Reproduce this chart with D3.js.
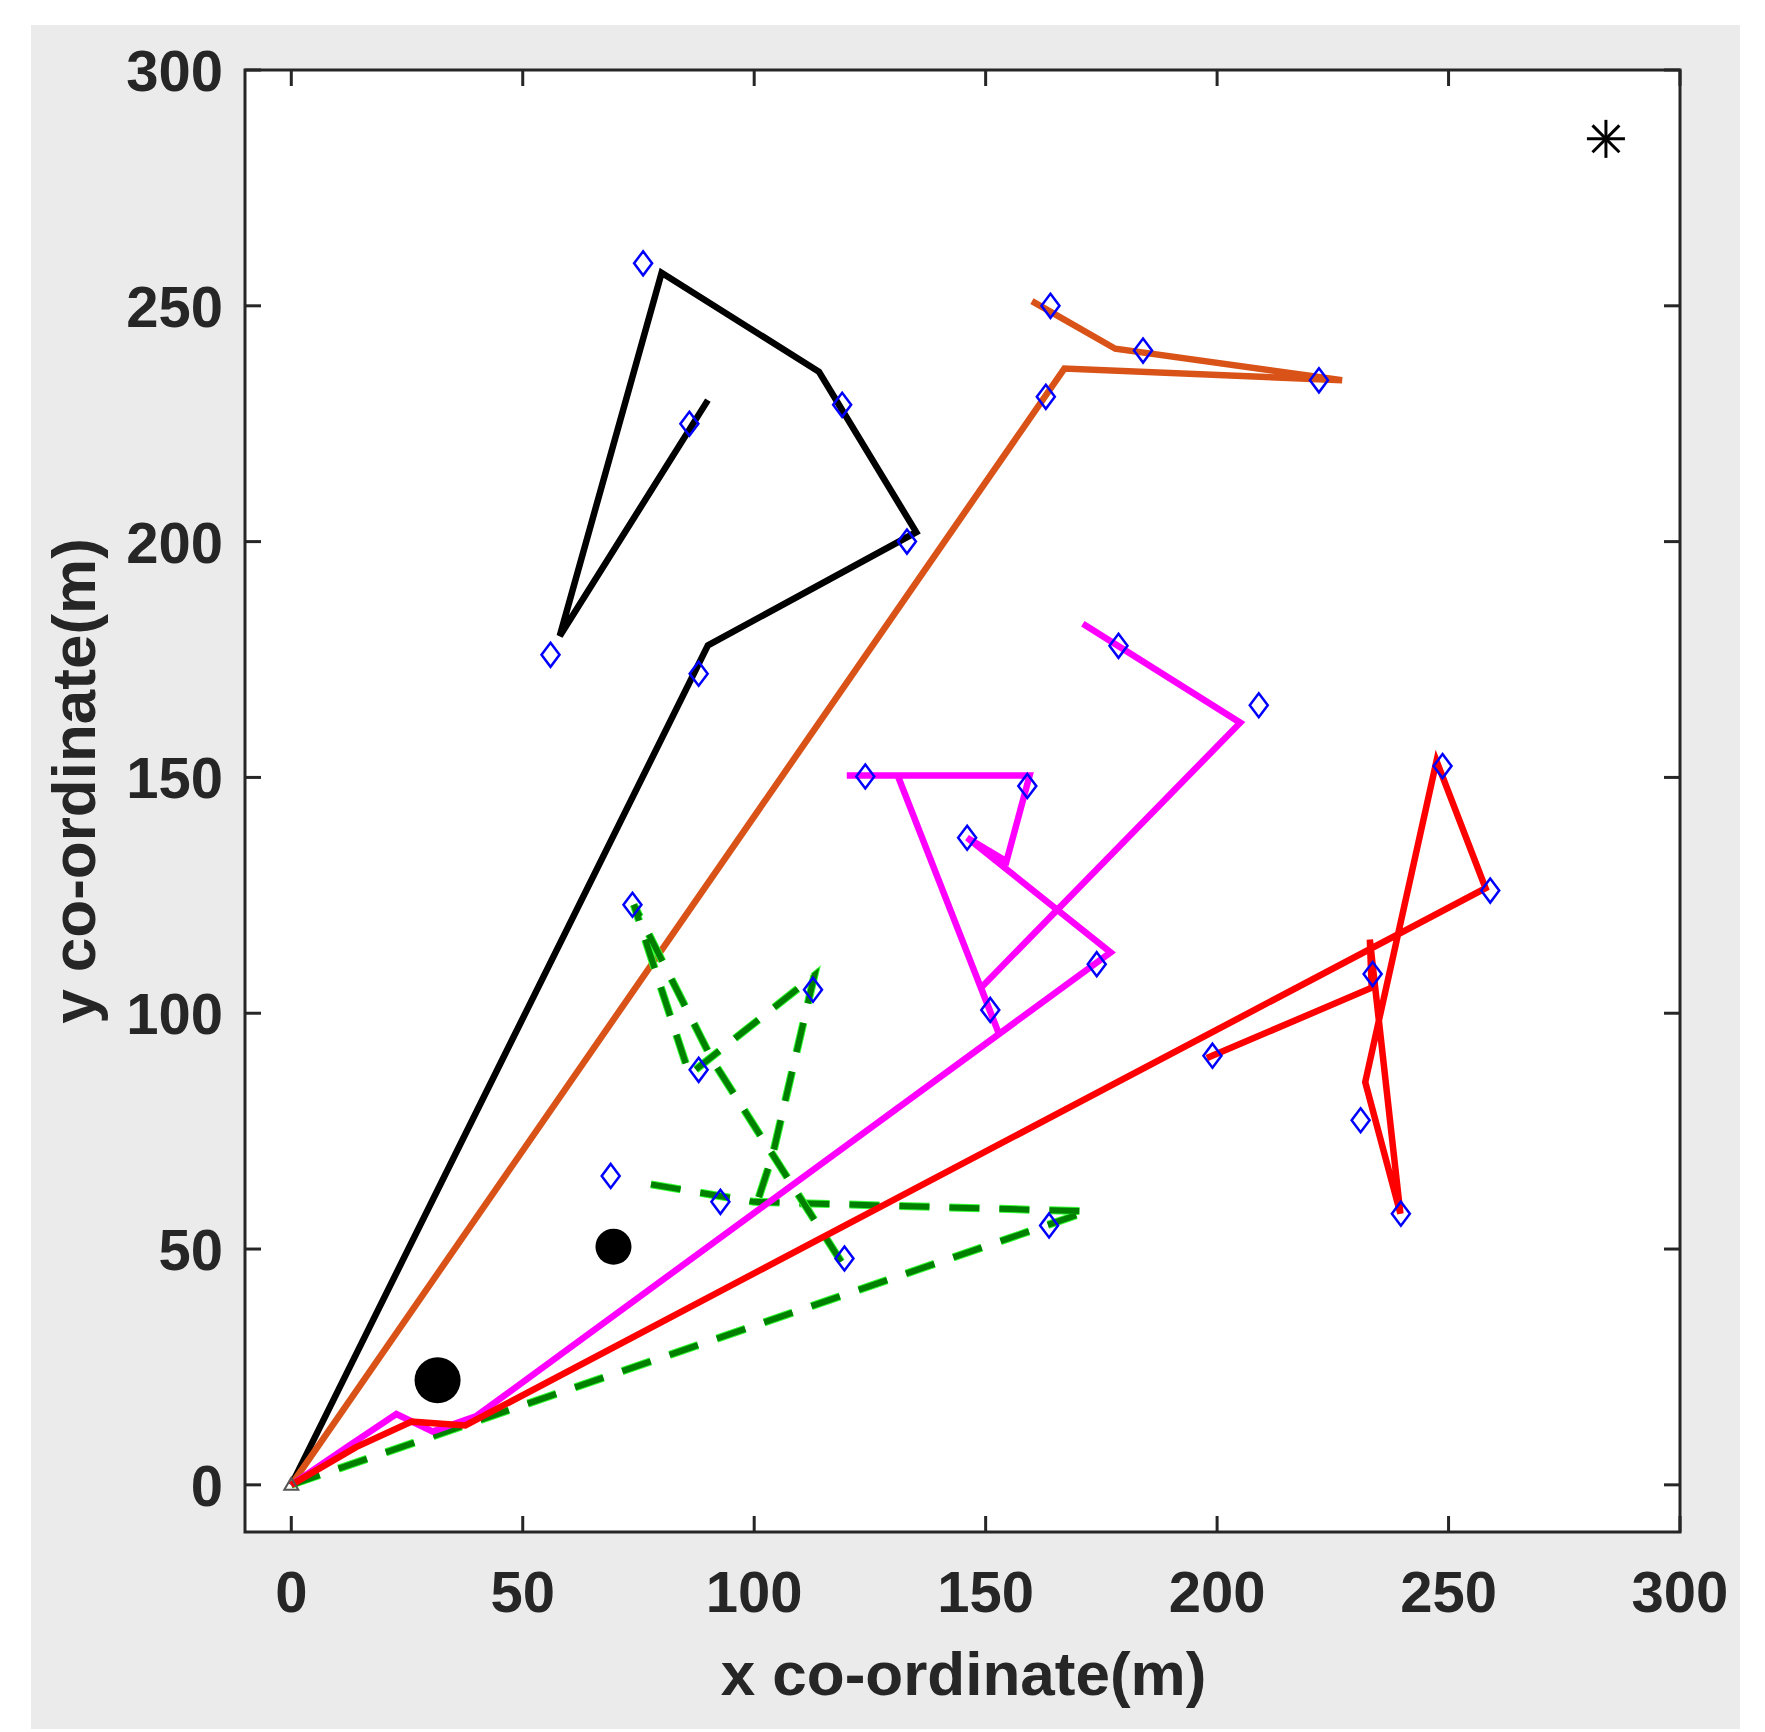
<!DOCTYPE html>
<html><head><meta charset="utf-8">
<script src="https://cdn.jsdelivr.net/npm/d3@7/dist/d3.min.js"></script>
<style>body{margin:0;background:#fff}</style></head>
<body><svg id="c" width="1765" height="1732"></svg>
<script>
const xTicks=[0,50,100,150,200,250,300];
const yTicks=[0,50,100,150,200,250,300];
const blackPath=[[0,0],[90,178],[135,202],[114,236],[80,257],[58,180],[90,230]];
const orangePath=[[0,0],[167,236.7],[227,234.2],[178,240.9],[160,251]];
const magentaPath=[[0,0],[12,8],[22.7,15],[30.5,11.3],[40,14.6],[177,112.9],[146,137.2],[154.5,132.2],[159.5,150.4],[120,150.4],[131,150.4],[153,95.3],[149,105.4],[205,161.6],[171,182.6]];
const redPath=[[0,0],[14,8],[26,13.4],[37.6,12.6],[258,126.5],[247.4,153.5],[232,85.4],[239.6,57.5],[233,115.6],[233.4,105.4],[197.8,90.5]];
const greenSeg1=[[0,0],[172,58],[100,60],[76,64]];
const greenSeg2=[[101,61],[104,70],[113,108],[86,87],[74,123],[91,90],[104,70],[119,47]];
const diamonds=[[76,259],[86,225],[119,229],[133,200],[88,172],[56,176],
 [164,250],[184,240.5],[222,234.2],[163,230.7],
 [178.7,177.9],[209,165.3],[124,150.2],[159,148.2],[146,137.2],[174,110.4],[151,100.7],
 [248.7,152.4],[259,126],[233.6,108.3],[199,91],[231,77.3],[239.7,57.5],
 [73.7,123],[112.7,105],[88,88],[69,65.5],[92.7,60],[119.5,48],[163.7,55]];
const bigDots=[[31.6,22.2,23],[69.6,50.5,18]];
const star=[284,285.4];

const svg=d3.select("#c");
svg.append("rect").attr("x",31).attr("y",25).attr("width",1709).attr("height",1704).attr("fill","#ebebeb");
const L=245,R=1680,T=70,B=1532;
svg.append("rect").attr("x",L).attr("y",T).attr("width",R-L).attr("height",B-T).attr("fill","#fff");
const x=d3.scaleLinear().domain([-10,300]).range([L,R]);
const y=d3.scaleLinear().domain([-10,300]).range([B,T]);
svg.append("clipPath").attr("id","cp").append("rect").attr("x",L).attr("y",T).attr("width",R-L).attr("height",B-T);
const plot=svg.append("g").attr("clip-path","url(#cp)");
const line=d3.line().x(d=>x(d[0])).y(d=>y(d[1]));
function path(data,color,w,dash){
  const p=plot.append("path").attr("d",line(data)).attr("fill","none").attr("stroke",color)
   .attr("stroke-width",w).attr("stroke-linejoin","miter").attr("stroke-linecap","butt");
  if(dash)p.attr("stroke-dasharray",dash);
  return p;
}
path(blackPath,"#000",6.5);
path(orangePath,"#d95319",6.5);
[greenSeg1,greenSeg2].forEach(s=>{path(s,"#33ff33",8,"30,20");path(s,"#007f00",6,"30,20");});
path(magentaPath,"#ff00ff",6.5);
path(redPath,"#ff0000",6.5);
plot.selectAll(".dm").data(diamonds).enter().append("path")
 .attr("d",d=>{const cx=x(d[0]),cy=y(d[1]);return `M${cx},${cy-12}L${cx+9},${cy}L${cx},${cy+12}L${cx-9},${cy}Z`;})
 .attr("fill","none").attr("stroke","#0000ff").attr("stroke-width",2.5);
plot.selectAll(".bd").data(bigDots).enter().append("circle")
 .attr("cx",d=>x(d[0])).attr("cy",d=>y(d[1])).attr("r",d=>d[2]).attr("fill","#000");
plot.append("path").attr("d",`M${x(0)-7},${y(0)+5}L${x(0)+7},${y(0)+5}L${x(0)},${y(0)-7}Z`).attr("fill","none").attr("stroke","#555").attr("stroke-width",2);
const sx=x(star[0]),sy=y(star[1]),sr=19;
[0,45,90,135].forEach(a=>{const r=a*Math.PI/180;
 plot.append("line").attr("x1",sx-sr*Math.cos(r)).attr("y1",sy-sr*Math.sin(r)).attr("x2",sx+sr*Math.cos(r)).attr("y2",sy+sr*Math.sin(r)).attr("stroke","#000").attr("stroke-width",3);});
const tl=16;
const ax=svg.append("g").attr("stroke","#262626").attr("stroke-width",3);
ax.append("rect").attr("x",L).attr("y",T).attr("width",R-L).attr("height",B-T).attr("fill","none");
xTicks.forEach(t=>{ax.append("line").attr("x1",x(t)).attr("x2",x(t)).attr("y1",B).attr("y2",B-tl);
 ax.append("line").attr("x1",x(t)).attr("x2",x(t)).attr("y1",T).attr("y2",T+tl);});
yTicks.forEach(t=>{ax.append("line").attr("y1",y(t)).attr("y2",y(t)).attr("x1",L).attr("x2",L+tl);
 ax.append("line").attr("y1",y(t)).attr("y2",y(t)).attr("x1",R).attr("x2",R-tl);});
const font="'Liberation Sans', Arial, sans-serif";
svg.selectAll(".xt").data(xTicks).enter().append("text").attr("x",d=>x(d)).attr("y",B+80)
 .attr("text-anchor","middle").attr("font-family",font).attr("font-weight","bold").attr("font-size",58).attr("fill","#262626").text(d=>d);
svg.selectAll(".yt").data(yTicks).enter().append("text").attr("x",L-22).attr("y",d=>y(d)+21)
 .attr("text-anchor","end").attr("font-family",font).attr("font-weight","bold").attr("font-size",58).attr("fill","#262626").text(d=>d);
svg.append("text").attr("x",(L+R)/2+1).attr("y",1695).attr("text-anchor","middle").attr("font-family",font)
 .attr("font-weight","bold").attr("font-size",62).attr("fill","#262626").text("x co-ordinate(m)");
svg.append("text").attr("transform",`translate(95,${(T+B)/2-20}) rotate(-90)`).attr("text-anchor","middle").attr("font-family",font)
 .attr("font-weight","bold").attr("font-size",62).attr("fill","#262626").text("y co-ordinate(m)");
</script></body></html>
